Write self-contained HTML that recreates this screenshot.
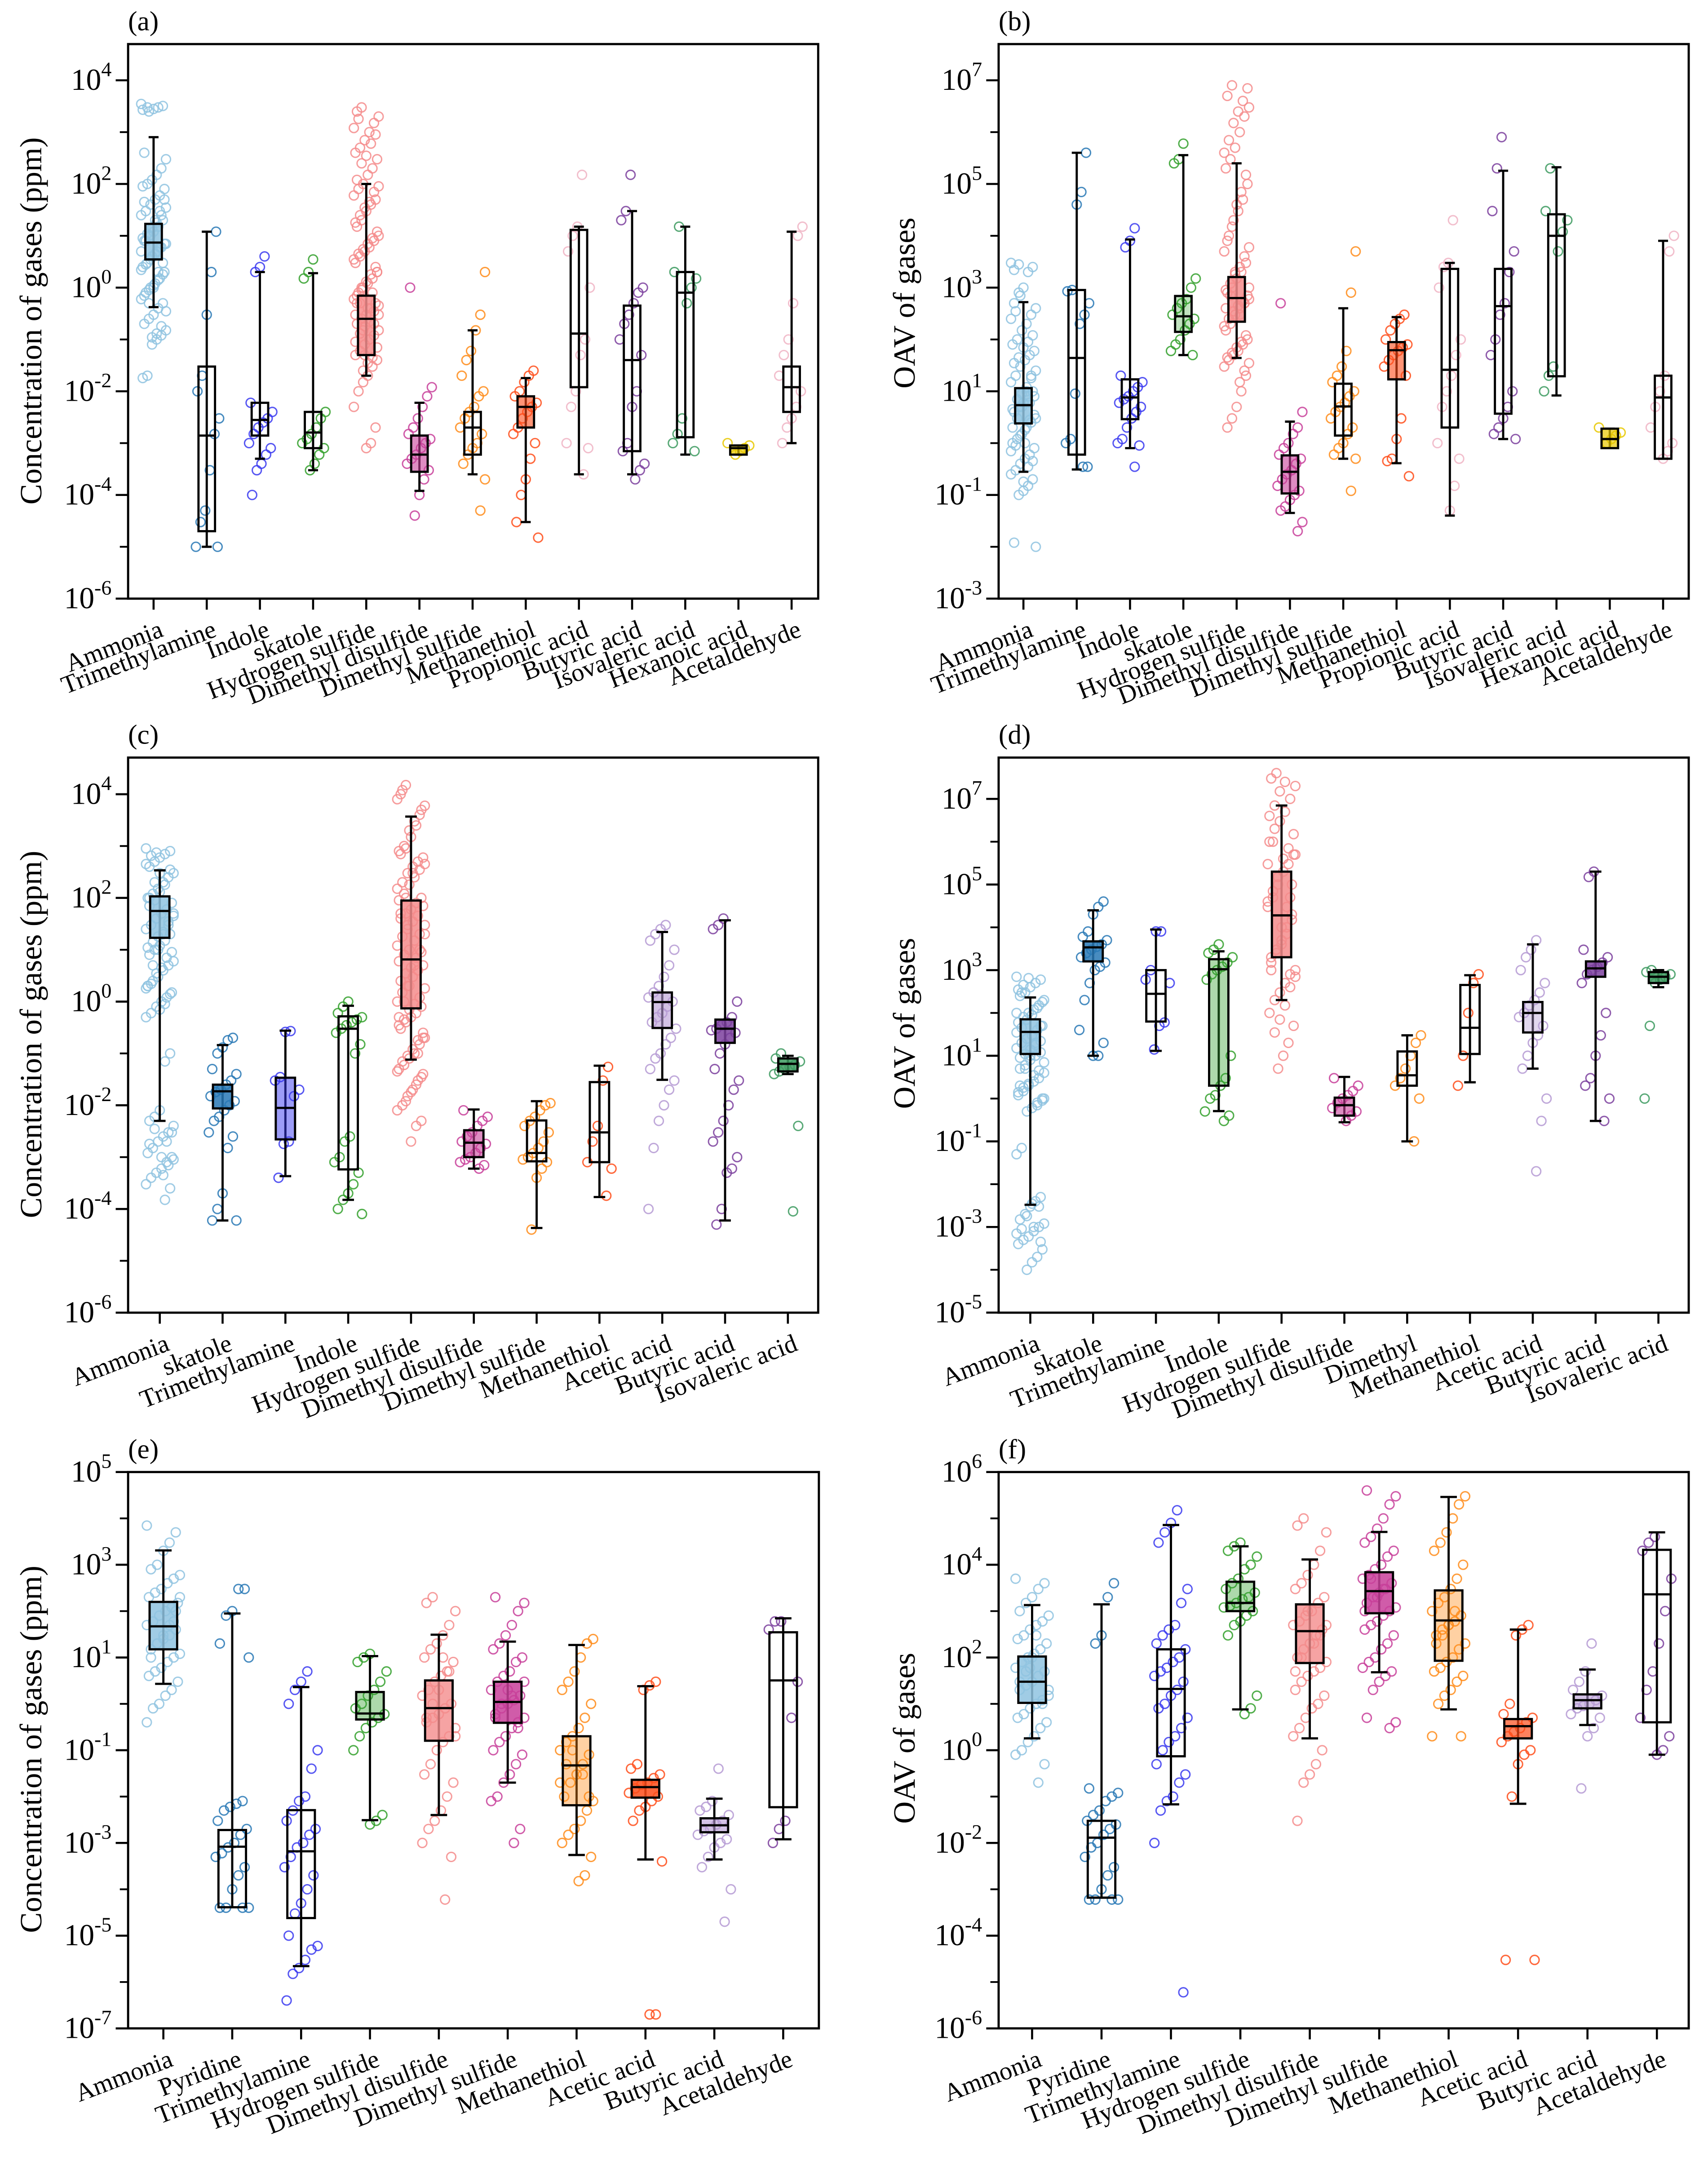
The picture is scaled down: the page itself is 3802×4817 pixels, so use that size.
<!DOCTYPE html>
<html><head><meta charset="utf-8"><title>Gas concentration and OAV box plots</title>
<style>
html,body{margin:0;padding:0;background:#fff;}
svg{display:block;}
text{font-family:"Liberation Serif","Times New Roman",serif;fill:#000;}
</style></head>
<body>
<svg id="fig" xmlns="http://www.w3.org/2000/svg" width="3802" height="4817" viewBox="0 0 1240 1571.07" preserveAspectRatio="none"></svg>
<script>
const LB='#8fc3e0',SB='#2878b5',BL='#3a3af0',GR='#33a02c',SA='#f48c8c',MG='#c8409a',OR='#ff8c1a',RD='#ff4d1a',PP='#f0b4c4',PU='#7b3f9e',LP='#b59ad4',G2='#3c9a5f',YE='#e8c800';

// ---------- panel (a) data ----------
const aCats=['Ammonia','Trimethylamine','Indole','skatole','Hydrogen sulfide','Dimethyl disulfide','Dimethyl sulfide','Methanethiol','Propionic acid','Butyric acid','Isovaleric acid','Hexanoic acid','Acetaldehyde'];
const aLo=[0.42,1e-5,5e-4,3e-4,0.02,1.2e-4,2.5e-4,3e-5,2.5e-4,2.5e-4,6e-4,6e-4,1e-3];
const aQ1=[3.5,2e-5,1.4e-3,8e-4,0.05,2.8e-4,6e-4,2e-3,0.012,7e-4,1.3e-3,6e-4,4e-3];
const aMed=[7.4,1.4e-3,2.8e-3,1.6e-3,0.25,6e-4,2e-3,5e-3,0.13,0.04,0.8,8e-4,0.012];
const aQ3=[17,0.03,6e-3,4e-3,0.7,1.4e-3,4e-3,8e-3,13,0.45,2,9e-4,0.03];
const aHi=[800,12,2,1.9,100,6e-3,0.15,0.018,15,30,15,9e-4,12];
const aPts=[
[3500,3200,3000,2800,2500,400,300,200,150,120,100,90,80,60,50,40,30,25,20,15,12,10,8,7,6,5,4,3,2.5,2,1.5,1.2,1,0.8,0.6,0.5,0.4,0.3,0.25,0.2,0.15,0.12,0.1,0.08,0.02,0.018,50,30,20,10,8,5,3,2,1,0.5,45,35,25,18,14,11,9,7,6,4.5,3.5,2.8,2.2,1.8,1.4,1.1,0.9,0.7,0.35,0.18,0.13,0.11,3000,2700],
[12,2,0.3,0.02,0.01,0.003,0.0015,0.0003,5e-5,3e-5,1e-5,1e-5],
[4,2.5,2,0.006,0.004,0.003,0.0025,0.002,0.0015,0.001,0.0008,0.0006,0.0004,0.0003,1e-4],
[3.5,2,1.5,0.004,0.003,0.002,0.0015,0.0012,0.001,0.0008,0.0006,0.0004,0.0003],
[3000,2500,2000,1500,1000,700,500,400,300,200,150,100,80,60,50,40,30,20,15,10,8,6,5,4,3,2,1.5,1.2,1,0.8,0.6,0.5,0.4,0.3,0.25,0.2,0.15,0.12,0.1,0.08,0.06,0.05,0.04,0.03,0.02,0.015,0.01,0.005,0.002,0.001,0.0008,1,0.5,0.3,0.2,0.1,0.05,0.5,0.3,2,0.8,0.4,0.15,1800,1200,900,600,350,250,120,90,70,45,35,25,18,12,9,7,5.5,4.5,3.5,2.5,1.8,1.3,0.9,0.7,0.45,0.35,0.22,0.18,0.13,0.09,0.07,0.045,0.035,0.025],
[1,0.012,0.008,0.005,0.003,0.002,0.0015,0.0012,0.001,0.0008,0.0006,0.0005,0.0004,0.0003,0.0002,0.0001,4e-5],
[2,0.3,0.15,0.06,0.04,0.02,0.01,0.008,0.005,0.004,0.003,0.002,0.0015,0.001,0.0008,0.0006,0.0004,0.0002,5e-5],
[0.025,0.02,0.015,0.01,0.008,0.006,0.005,0.004,0.003,0.002,0.0015,0.001,0.0005,0.0002,0.0001,3e-5,1.5e-5],
[150,15,10,5,1,0.1,0.05,0.01,0.005,0.001,0.0008,0.00025],
[150,30,20,1,0.8,0.5,0.3,0.2,0.1,0.05,0.01,0.005,0.001,0.0007,0.0004,0.0003,0.0002],
[15,2,1.5,1,0.5,0.003,0.0015,0.001,0.0007],
[0.001,0.0009,0.0008,0.0007,0.0006],
[15,10,0.5,0.1,0.05,0.02,0.01,0.005,0.003,0.002,0.001]];
const aColors=[LB,SB,BL,GR,SA,MG,OR,RD,PP,PU,G2,YE,PP];
const aFill=[0.85,0,0,0,0.85,0.6,0,0.6,0,0,0,0.7,0];
const aTicks=[4,2,0,-2,-4,-6];

// ---------- panel (b) data ----------
const bCats=aCats.slice();
const bLo=[0.28,0.31,0.8,50,44,0.045,0.5,0.41,0.04,1.2,8.3,0.8,0.5];
const bQ1=[2.4,0.6,2.9,140,220,0.107,1.4,17,2,3.7,19.5,0.8,0.5];
const bMed=[5.4,44,7.6,280,630,0.28,5.1,62,26,440,1e4,1.2,7.6];
const bQ3=[11.5,900,17,690,1600,0.58,14,89,2300,2300,2.6e4,1.9,20];
const bHi=[525,4e5,8500,3.6e5,2.5e5,2.6,400,270,3000,1.8e5,2.1e5,1.9,8000];
const bPts=[
[3000,2500,2000,1000,800,500,400,300,200,150,100,80,60,50,40,30,20,15,10,8,6,5,4,3,2.5,2,1.5,1.2,1,0.8,0.6,0.5,0.4,0.3,0.25,0.2,0.15,0.12,0.1,0.012,0.01,20,10,5,3,2,8,6,1,700,350,250,120,90,70,45,35,25,18,12,9,7,4.5,3.5,2.8,1.8,1.4,0.9,0.7,0.45,0.35,0.18,2800,2200],
[4e5,7e4,4e4,900,850,500,300,200,9,1.2,1,0.35,0.35],
[1.4e4,8000,6000,20,15,12,10,8,7,6,5,4,3,2,1.2,1,0.9,0.35],
[6e5,3e5,2.5e5,1500,1000,600,500,400,300,250,200,150,100,80,60,50],
[8e6,5e6,3e6,2e6,1e6,5e5,3e5,2e5,1e5,5e4,3e4,2e4,1e4,5000,3000,2000,1500,1000,800,600,500,400,300,200,150,100,80,60,50,40,30,20,10,5,3,2,1000,500,300,2000,700,400,7e6,4e6,2.5e6,1.5e6,7e5,4e5,1.5e5,7e4,4e4,1.5e4,8000,6000,4000,2500,1800,1200,900,700,550,450,350,250,180,120,90,70,55,45,35,25,15],
[500,4,2,1.5,1,0.8,0.6,0.5,0.4,0.3,0.25,0.2,0.15,0.12,0.1,0.08,0.06,0.05,0.03,0.02],
[5000,800,60,30,20,15,10,8,6,5,4,3,2,1.5,1,0.8,0.6,0.5,0.12],
[300,250,200,150,100,80,70,60,50,40,30,20,3,1.2,0.5,0.45,0.23],
[2e4,3000,2500,1000,100,50,20,10,5,1,0.5,0.15,0.05],
[8e5,2e5,3e4,5000,2000,500,300,100,50,10,5,3,2,1.5,1.2],
[2e5,3e4,2e4,1.2e4,5000,30,20,10],
[2,1.6,1.4,1.2,1],
[1e4,5000,20,10,5,2,1,0.7,0.5]];
const bColors=aColors.slice();
const bFill=[0.85,0,0,0.3,0.85,0.6,0,0.6,0,0,0,0.7,0];
const bTicks=[7,5,3,1,-1,-3];

// ---------- panel (c) data ----------
const cCats=['Ammonia','skatole','Trimethylamine','Indole','Hydrogen sulfide','Dimethyl disulfide','Dimethyl sulfide','Methanethiol','Acetic acid','Butyric acid','Isovaleric acid'];
const cLo=[5e-3,6e-5,4.3e-4,1.5e-4,0.076,6e-4,4.3e-5,1.7e-4,0.031,6e-5,0.04];
const cQ1=[17,8.7e-3,2.2e-3,5.8e-4,0.74,1e-3,8.3e-4,8e-4,0.31,0.16,0.045];
const cMed=[56,0.0186,8.9e-3,0.3,6.5,1.9e-3,1.2e-3,3e-3,0.98,0.3,0.063];
const cQ3=[107,0.025,0.034,0.52,89,3.3e-3,5.1e-3,0.028,1.5,0.45,0.08];
const cHi=[340,0.145,0.275,0.83,3700,8.3e-3,0.012,0.058,22,37,0.09];
const cPts=[
[900,800,700,600,500,400,300,250,200,150,120,100,80,60,50,40,30,25,20,15,12,10,8,6,5,4,3,2.5,2,1.5,1.2,1,0.8,0.6,0.5,0.1,0.07,0.008,0.006,0.005,0.004,0.003,0.0025,0.002,0.0015,0.0012,0.001,0.0008,0.0006,0.0005,0.0004,0.0003,0.00025,0.00015,300,200,100,50,30,20,10,5,2,0.003,0.002,0.001,750,650,450,350,180,130,90,70,45,35,22,18,14,11,9,7,4.5,3.5,2.2,1.8,1.4,0.9,0.7,0.0035,0.0018,0.0009,0.0007,0.00045],
[0.2,0.18,0.13,0.1,0.05,0.04,0.03,0.025,0.02,0.018,0.015,0.012,0.01,0.008,0.006,0.005,0.003,0.0025,0.0015,0.0002,0.0001,6e-5,6e-5],
[0.27,0.26,0.035,0.03,0.02,0.015,0.002,0.0018,0.0004],
[1,0.8,0.6,0.5,0.45,0.4,0.35,0.3,0.25,0.15,0.1,0.0025,0.002,0.001,0.0008,0.0005,0.0003,0.0002,0.00015,0.0001,8e-5],
[1.5e4,1e4,6000,4000,3000,2000,1000,800,600,500,400,300,200,150,100,80,60,50,40,30,20,15,10,8,6,5,4,3,2,1.5,1,0.8,0.6,0.5,0.4,0.3,0.2,0.15,0.1,0.08,0.06,0.05,0.04,0.03,0.02,0.015,0.01,0.008,0.005,0.004,0.002,100,50,20,10,5,2,1,0.5,0.2,0.1,300,30,1.2e4,8000,5000,2500,1500,900,700,450,350,250,180,120,90,70,45,35,25,18,12,9,7,4.5,3.5,2.5,1.8,1.2,0.9,0.7,0.45,0.35,0.25,0.18,0.12,0.09,0.07,0.045,0.035,0.025,0.018,0.012],
[0.008,0.006,0.005,0.004,0.003,0.0025,0.002,0.0018,0.0015,0.0012,0.001,0.0009,0.0008,0.0007,0.0006],
[0.011,0.01,0.008,0.006,0.005,0.004,0.003,0.002,0.0015,0.0012,0.001,0.0009,0.0008,0.0006,0.0004,4e-5],
[0.055,0.03,0.004,0.002,0.0008,0.0006,0.00018],
[30,25,20,15,10,5,3,2,1.5,1.2,1,0.8,0.6,0.5,0.4,0.3,0.2,0.15,0.1,0.08,0.05,0.03,0.02,0.01,0.005,0.0015,0.0001],
[40,30,25,1,0.5,0.4,0.35,0.3,0.28,0.25,0.2,0.15,0.1,0.05,0.03,0.02,0.01,0.005,0.003,0.002,0.001,0.0006,0.0005,0.0001,5e-5],
[0.1,0.08,0.07,0.06,0.055,0.05,0.045,0.04,0.004,9e-5]];
const cColors=[LB,SB,BL,GR,SA,MG,OR,RD,LP,PU,G2];
const cFill=[0.85,0.85,0.5,0,0.85,0.6,0,0,0.6,0.85,0.85];
const cTicks=[4,2,0,-2,-4,-6];

// ---------- panel (d) data ----------
const dCats=['Ammonia','skatole','Trimethylamine','Indole','Hydrogen sulfide','Dimethyl disulfide','Dimethyl','Methanethiol','Acetic acid','Butyric acid','Isovaleric acid'];
const dLo=[3.3e-3,10,13,0.51,200,0.28,0.1,2.4,5,0.3,400];
const dQ1=[11,1600,63,2,2000,0.4,2,11,35,700,500];
const dMed=[36,3400,280,1050,1.9e4,0.7,3.5,45,100,1100,700];
const dQ3=[71,4700,1000,1800,2e5,1.05,12.6,450,180,1600,900];
const dHi=[230,2.5e4,8900,2750,7e6,3.2,30,760,4000,2e5,1000];
const dPts=[
[700,600,500,400,300,250,200,150,120,100,80,60,50,40,30,25,20,15,12,10,8,6,5,4,3,2.5,2,1.5,1.2,1,0.8,0.6,0.5,0.07,0.05,0.005,0.004,0.003,0.002,0.0015,0.0012,0.001,0.0008,0.0006,0.0005,0.0004,0.0003,0.0002,0.00015,0.0001,300,100,50,20,10,5,2,1,0.003,0.001,650,450,350,180,130,90,70,45,35,22,18,14,11,9,7,4.5,3.5,2.2,1.8,1.4,0.9,0.7,0.0035,0.0018,0.0009,0.0007,0.00045],
[4e4,3e4,2e4,8000,6000,5000,4000,3500,3000,2500,2000,1500,1200,1000,500,200,40,20,10,10],
[8000,8000,1000,600,500,60,50,14],
[4000,3000,2500,2000,1500,1200,1000,800,600,10,3,2,1.2,1,0.5,0.4,0.3],
[4e7,3e7,2e7,1e7,5e6,3e6,2e6,1e6,5e5,3e5,2e5,1e5,5e4,3e4,2e4,1e4,5000,3000,2000,1000,800,500,300,200,100,50,20,10,5,1e6,3e5,1e5,3e4,1e4,3000,1000,5e5,5e4,2.5e7,1.5e7,7e6,4e6,1.5e6,7e5,4e5,1.5e5,7e4,4e4,1.5e4,7000,4000,2500,1500,700,400,150,70,35],
[3,2,1.5,1.2,1,0.8,0.6,0.5,0.4,0.3],
[30,20,10,5,3,2,1,0.1],
[800,500,100,10,2],
[5000,3000,2000,1000,500,300,200,150,100,80,50,30,20,10,5,1,0.3,0.02],
[2e5,1.5e5,3000,2000,1500,1200,1000,800,500,100,30,10,3,2,1,0.3],
[1000,900,800,700,600,500,50,1]];
const dColors=cColors.slice();
const dFill=[0.85,0.85,0,0.4,0.85,0.6,0,0,0.4,0.85,0.85];
const dTicks=[7,5,3,1,-1,-3,-5];

// ---------- panel (e) data ----------
const eCats=['Ammonia','Pyridine','Trimethylamine','Hydrogen sulfide','Dimethyl disulfide','Dimethyl sulfide','Methanethiol','Acetic acid','Butyric acid','Acetaldehyde'];
const eLo=[2.7,4.1e-5,2.2e-6,3.1e-3,4e-3,0.02,5.5e-4,4.4e-4,4.4e-4,1.2e-3];
const eQ1=[15,4.1e-5,2.4e-5,0.46,0.16,0.39,6.5e-3,9.5e-3,1.7e-3,5.9e-3];
const eMed=[47,8.3e-4,6.6e-4,0.62,0.81,1.1,0.047,0.016,2.4e-3,3.2];
const eQ3=[158,1.9e-3,5.1e-3,1.8,3.2,3.0,0.2,0.023,3.4e-3,35];
const eHi=[2040,89,2.3,10.7,31,22,18.6,2.4,9e-3,70];
const ePts=[
[7000,5000,3000,2000,1000,800,600,500,400,300,250,200,150,120,100,80,60,50,40,30,25,20,15,12,10,8,6,5,4,3,2,1.5,1,0.8,0.4,100,50,30,20,10,200,60],
[300,300,100,80,20,10,0.008,0.007,0.006,0.005,0.003,0.002,0.0015,0.001,0.0008,0.0006,0.0005,0.0003,0.0002,0.0001,4e-5,4e-5,4e-5,4e-5],
[5,3,2,1,0.1,0.04,0.01,0.008,0.005,0.003,0.002,0.0015,0.001,0.0008,0.0005,0.0003,0.0002,0.0001,5e-5,3e-5,1e-5,6e-6,5e-6,3e-6,2e-6,1.5e-6,4e-7],
[12,10,8,5,3,2,1.5,1,0.8,0.6,0.5,0.4,0.3,0.2,0.1,0.004,0.003,0.0025],
[200,150,100,50,30,20,15,10,8,5,4,3,2,1.5,1,0.8,0.6,0.5,0.4,0.3,0.2,0.15,0.1,0.05,0.03,0.02,0.01,0.005,0.003,0.002,0.001,0.0005,6e-5,2,1,0.5,0.2,5,10],
[200,150,100,50,30,20,15,10,8,5,4,3,2,1.5,1.2,1,0.8,0.6,0.5,0.4,0.3,0.2,0.15,0.1,0.08,0.05,0.03,0.02,0.01,0.008,0.002,0.001,2,1,0.5,3,0.3,1.5],
[25,20,10,5,3,2,1,0.5,0.3,0.2,0.15,0.1,0.08,0.05,0.03,0.02,0.01,0.008,0.005,0.003,0.002,0.0015,0.001,0.0005,0.0002,0.00015,0.1,0.05,0.02,0.01,0.03],
[3,2.5,2,0.05,0.04,0.03,0.025,0.02,0.018,0.015,0.012,0.01,0.008,0.006,0.005,0.003,0.0004,2e-7,2e-7],
[0.04,0.008,0.006,0.005,0.004,0.003,0.0025,0.002,0.0018,0.0015,0.0012,0.001,0.0008,0.0005,0.0003,0.0001,2e-5],
[60,60,40,3,0.5,0.003,0.002,0.001]];
const eColors=[LB,SB,BL,GR,SA,MG,OR,RD,LP,PU];
const eFill=[0.85,0,0,0.4,0.8,0.85,0.4,0.85,0.6,0];
const eTicks=[5,3,1,-1,-3,-5,-7];

// ---------- panel (f) data ----------
const fCats=eCats.slice();
const fLo=[1.8,6.6e-4,0.068,7.6,1.8,48,7.6,0.07,3.5,0.8];
const fQ1=[10.5,6.6e-4,0.74,1000,76,900,85,1.8,8,4];
const fMed=[30,0.013,21,1500,370,2700,630,3.3,12,2300];
const fQ3=[105,0.03,150,4300,1400,6900,2800,4.7,16,2.1e4];
const fHi=[1350,1400,7.2e4,2.5e4,1.3e4,5.1e4,2.9e5,400,55,5e4];
const fPts=[
[5000,4000,3000,2000,1500,1000,800,600,500,400,300,250,200,150,120,100,80,60,50,40,30,25,20,15,12,10,8,6,5,4,3,2,1.5,1,0.8,0.5,0.2,100,50,30,20,10,300,60],
[4000,2000,300,200,0.15,0.12,0.1,0.08,0.05,0.04,0.03,0.025,0.02,0.015,0.01,0.008,0.005,0.003,0.002,0.001,0.0006,0.0006,0.0006,0.0006],
[1.5e5,8e4,5e4,3e4,3000,1500,500,400,300,200,150,100,80,60,50,40,30,20,15,10,8,5,3,2,1.5,1,0.5,0.3,0.2,0.1,0.08,0.05,0.01,6e-6],
[3e4,2.5e4,2e4,1.5e4,1e4,8000,5000,4000,3000,2500,2000,1800,1500,1300,1200,1000,800,600,500,300,15,8,6],
[1e5,7e4,5e4,2e4,1e4,6000,4000,3000,2000,1500,1000,800,600,500,400,300,200,150,100,80,60,50,40,30,20,15,10,8,5,3,2,1,0.5,0.3,0.2,0.03,500,300,200,1000,100,50],
[4e5,3e5,2e5,1e5,6e4,4e4,3e4,2e4,1.5e4,1e4,8000,6000,5000,4000,3000,2500,2000,1500,1200,1000,800,600,500,400,300,200,150,100,80,60,50,40,30,20,5,4,3,3000,2000,5000,1000],
[3e5,2e5,1e5,5e4,3e4,2e4,1e4,5000,3000,2000,1500,1000,800,600,500,400,300,200,150,100,80,60,50,40,30,20,15,10,2,2,1000,500,300,200],
[500,400,300,10,6,5,4,3,2.5,2,1.5,1,0.8,0.5,0.1,3e-5,3e-5],
[200,50,30,20,15,12,10,9,8,6,5,3,2,0.15],
[4e4,3e4,2e4,5000,1000,200,50,20,5,2,1,0.8]];
const fColors=eColors.slice();
const fFill=[0.85,0,0,0.4,0.8,0.85,0.4,0.7,0.6,0];
const fTicks=[6,4,2,0,-2,-4,-6];

// ---------- rendering ----------
const NS='http://www.w3.org/2000/svg';
const svg=document.getElementById('fig');
function mk(tag,attrs,parent){const e=document.createElementNS(NS,tag);for(const k in attrs)e.setAttribute(k,attrs[k]);(parent||svg).appendChild(e);return e;}

function drawPanel(id,G,title,cats,lo,q1,med,q3,hi,pts,colors,fills,ticks){
  const g=mk('g',{});
  
  
  const y=v=>G.yAt+(G.eAt-Math.log10(v))*G.pd;
  const x=i=>G.xFirst+i*G.dx;
  const lab=mk('text',{x:G.x0,y:G.top-10,'font-size':20},g);lab.textContent='('+id+')';
  
  
  const yt=mk('text',{x:0,y:0,'font-size':22.5,'text-anchor':'middle',transform:'translate('+G.ytx+','+G.yty+') rotate(-90)'},g);
  yt.textContent=title;
  
  
  cats.forEach((c,i)=>{
    const cg=mk('g',{},g);
    
    
    const cx=x(i),col=colors[i];
    pts[i].forEach((v,k)=>{
      const off=G.spread*(((k*7919+i*31)%17)/8-1);
      const p=mk('circle',{cx:cx+off,cy:y(v),r:3.3,fill:'none',stroke:col,'stroke-width':1,'stroke-opacity':0.85},cg);
      
      
    });
    const hw=G.bw/2,cw=G.bw*0.3;
    const wl=mk('line',{x1:cx,x2:cx,y1:y(hi[i]),y2:y(lo[i]),stroke:'#000','stroke-width':1.6},cg);
    
    
    [hi[i],lo[i]].forEach(v=>{
      const cap=mk('line',{x1:cx-cw,x2:cx+cw,y1:y(v),y2:y(v),stroke:'#000','stroke-width':1.6},cg);
      
      
    });
    const bx=mk('rect',{x:cx-hw,y:y(q3[i]),width:G.bw,height:Math.max(1,y(q1[i])-y(q3[i])),fill:fills[i]>0?col:'none','fill-opacity':fills[i],stroke:'#000','stroke-width':1.6},cg);
    
    
    const md=mk('line',{x1:cx-hw,x2:cx+hw,y1:y(med[i]),y2:y(med[i]),stroke:'#000','stroke-width':1.6},cg);
    
    
    const tk=mk('line',{x1:cx,x2:cx,y1:G.bot,y2:G.bot+8,stroke:'#000','stroke-width':1.5},g);
    
    
    const tl=mk('text',{x:0,y:0,'font-size':18.5,'text-anchor':'end',transform:'translate('+(cx+8)+','+(G.bot+27)+') rotate(-21)'},g);
    tl.textContent=c;
    
    
  });
  const fr=mk('rect',{x:G.x0,y:G.top,width:G.x1-G.x0,height:G.bot-G.top,fill:'none',stroke:'#000','stroke-width':1.6},g);
  
  
  ticks.forEach(e=>{
    const yy=y(Math.pow(10,e));
    const t=mk('line',{x1:G.x0-9,x2:G.x0,y1:yy,y2:yy,stroke:'#000','stroke-width':1.5},g);
    
    
    const tx=mk('text',{x:G.x0-12,y:yy+7,'font-size':22,'text-anchor':'end'},g);
    
    
    const b=mk('tspan',{},tx);b.textContent='10';
    const s=mk('tspan',{dy:-10,'font-size':15},tx);s.textContent=String(e);
    const ym=y(Math.pow(10,e+1));
    if(ym>=G.top+2&&ym<=G.bot){
      const m=mk('line',{x1:G.x0-6,x2:G.x0,y1:ym,y2:ym,stroke:'#000','stroke-width':1.3},g);
      
      
    }
  });
}

const GA={x0:93,x1:594,top:32,bot:434.6,eAt:4,yAt:58.3,pd:37.63,xFirst:111.5,dx:38.6,bw:12,spread:9,ytx:30,yty:233};
const GB={x0:725,x1:1226,top:32,bot:434.6,eAt:7,yAt:58.3,pd:37.63,xFirst:743,dx:38.7,bw:12,spread:9,ytx:664,yty:220};
const GC={x0:93,x1:594,top:550,bot:953,eAt:4,yAt:576.6,pd:37.64,xFirst:116,dx:45.6,bw:14,spread:10,ytx:30,yty:751};
const GD={x0:725,x1:1226,top:550,bot:953,eAt:7,yAt:580,pd:31.08,xFirst:748,dx:45.6,bw:14,spread:10,ytx:664,yty:743};
const GE={x0:93,x1:594.5,top:1068.7,bot:1472.6,eAt:5,yAt:1068.7,pd:33.66,xFirst:118.6,dx:50,bw:20,spread:12,ytx:30,yty:1270};
const GF={x0:725,x1:1226,top:1068.7,bot:1472.6,eAt:6,yAt:1068.7,pd:33.66,xFirst:749.3,dx:50.4,bw:20,spread:12,ytx:664,yty:1262};

const CT='Concentration of gases (ppm)',OT='OAV of gases';
drawPanel('a',GA,CT,aCats,aLo,aQ1,aMed,aQ3,aHi,aPts,aColors,aFill,aTicks);
drawPanel('b',GB,OT,bCats,bLo,bQ1,bMed,bQ3,bHi,bPts,bColors,bFill,bTicks);
drawPanel('c',GC,CT,cCats,cLo,cQ1,cMed,cQ3,cHi,cPts,cColors,cFill,cTicks);
drawPanel('d',GD,OT,dCats,dLo,dQ1,dMed,dQ3,dHi,dPts,dColors,dFill,dTicks);
drawPanel('e',GE,CT,eCats,eLo,eQ1,eMed,eQ3,eHi,ePts,eColors,eFill,eTicks);
drawPanel('f',GF,OT,fCats,fLo,fQ1,fMed,fQ3,fHi,fPts,fColors,fFill,fTicks);
</script>
</body></html>
